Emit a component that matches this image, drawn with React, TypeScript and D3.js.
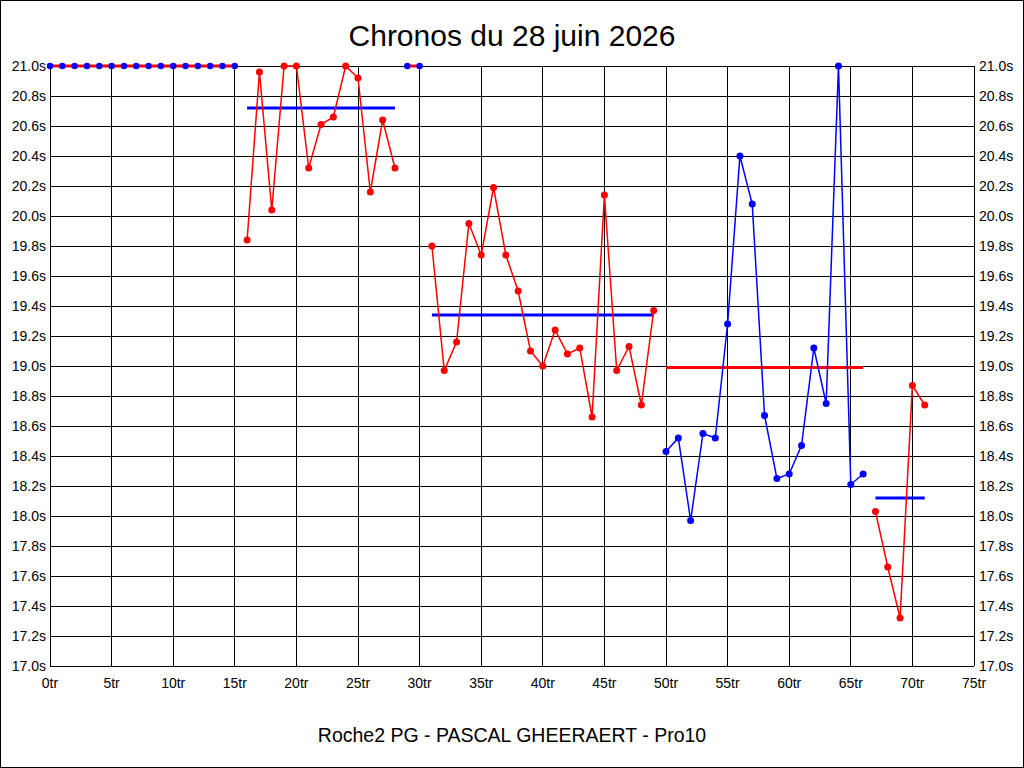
import React from 'react';
import * as d3 from 'd3';

// chart values
const title = 'Chronos du 28 juin 2026';
const subtitle = 'Roche2 PG - PASCAL GHEERAERT - Pro10';

const xTicks = d3.range(0, 76, 5); // tours
const yTicks = d3.range(17.0, 21.01, 0.2); // secondes

const runStarts = [0, 16, 29, 31, 50, 67];
const run0 = [21.0, 21.0, 21.0, 21.0, 21.0, 21.0, 21.0, 21.0, 21.0, 21.0, 21.0, 21.0, 21.0, 21.0, 21.0, 21.0];
const run1 = [19.84, 20.96, 20.04, 21.0, 21.0, 20.32, 20.61, 20.66, 21.0, 20.92, 20.16, 20.64, 20.32];
const run2 = [21.0, 21.0];
const run3 = [19.8, 18.97, 19.16, 19.95, 19.74, 20.19, 19.74, 19.5, 19.1, 19.0, 19.24, 19.08, 19.12, 18.66, 20.14, 18.97, 19.13, 18.74, 19.37];
const run4 = [18.43, 18.52, 17.97, 18.55, 18.52, 19.28, 20.4, 20.08, 18.67, 18.25, 18.28, 18.47, 19.12, 18.75, 21.0, 18.21, 18.28];
const run5 = [18.03, 17.66, 17.32, 18.87, 18.74];
const runValues = [run0, run1, run2, run3, run4, run5];
const runAverages = [null, 20.72, null, 19.34, 18.99, 18.12];

const lineColors = ['#ff0000', '#ff0000', '#ff0000', '#ff0000', '#0000ff', '#ff0000'];
const markerColors = ['#0000ff', '#ff0000', '#0000ff', '#ff0000', '#0000ff', '#ff0000'];
const avgColors = [null, '#0000ff', null, '#0000ff', '#ff0000', '#0000ff'];
const cappedRuns = [true, false, true, false, false, false];

const App = () => {
  const width = 1024;
  const height = 768;
  const margin = { top: 66, right: 50, bottom: 102, left: 50 };
  const font = '"Liberation Sans", Arial, sans-serif';

  const x = d3.scaleLinear().domain([0, 75]).range([margin.left, width - margin.right]);
  const y = d3.scaleLinear().domain([17, 21]).range([height - margin.bottom, margin.top]);

  const line = d3
    .line<[number, number]>()
    .x((d) => x(d[0]))
    .y((d) => y(d[1]));

  const fmtY = (v: number) => `${v.toFixed(1)}s`;

  return (
    <svg
      width={width}
      height={height}
      style={{ position: 'absolute', left: 0, top: 0, background: '#fff' }}
      fontFamily={font}
    >
      <rect x={0.5} y={0.5} width={width - 1} height={height - 1} fill="#fff" stroke="#000" />
      <text x={width / 2} y={46} textAnchor="middle" fontSize={30} fill="#000">
        {title}
      </text>

      {/* grid */}
      <g stroke="#000" strokeWidth={1} shapeRendering="crispEdges">
        {xTicks.map((t) => (
          <line key={'gx' + t} x1={x(t)} x2={x(t)} y1={y(17)} y2={y(21)} />
        ))}
        {yTicks.map((t) => (
          <line key={'gy' + t} x1={x(0)} x2={x(75)} y1={y(t)} y2={y(t)} />
        ))}
      </g>

      {/* axes labels */}
      <g fontSize={14} fill="#000">
        {yTicks.map((t) => (
          <text key={'ly' + t} x={x(0) - 4} y={y(t)} dy="0.35em" textAnchor="end">
            {fmtY(t)}
          </text>
        ))}
        {yTicks.map((t) => (
          <text key={'ry' + t} x={x(75) + 5} y={y(t)} dy="0.35em" textAnchor="start">
            {fmtY(t)}
          </text>
        ))}
        {xTicks.map((t) => (
          <text key={'lx' + t} x={x(t)} y={y(17) + 22} textAnchor="middle">
            {`${t}tr`}
          </text>
        ))}
      </g>

      {/* series */}
      {runValues.map((vals, i) => {
        const pts: [number, number][] = vals.map((v, j) => [runStarts[i] + j, v]);
        const avg = runAverages[i];
        return (
          <g key={'run' + i}>
            {avg != null && (
              <line
                x1={x(runStarts[i])}
                x2={x(runStarts[i] + vals.length - 1)}
                y1={y(avg)}
                y2={y(avg)}
                stroke={avgColors[i] as string}
                strokeWidth={3}
              />
            )}
            <path
              d={line(pts) || ''}
              fill="none"
              stroke={lineColors[i]}
              strokeWidth={cappedRuns[i] ? 3 : 1.5}
            />
            {pts.map((p, j) => (
              <circle
                key={j}
                cx={x(p[0])}
                cy={y(p[1])}
                r={cappedRuns[i] ? 3.2 : 3.5}
                fill={markerColors[i]}
              />
            ))}
          </g>
        );
      })}

      <text x={width / 2} y={742} textAnchor="middle" fontSize={19.5} fill="#000">
        {subtitle}
      </text>
    </svg>
  );
};

export default App;
